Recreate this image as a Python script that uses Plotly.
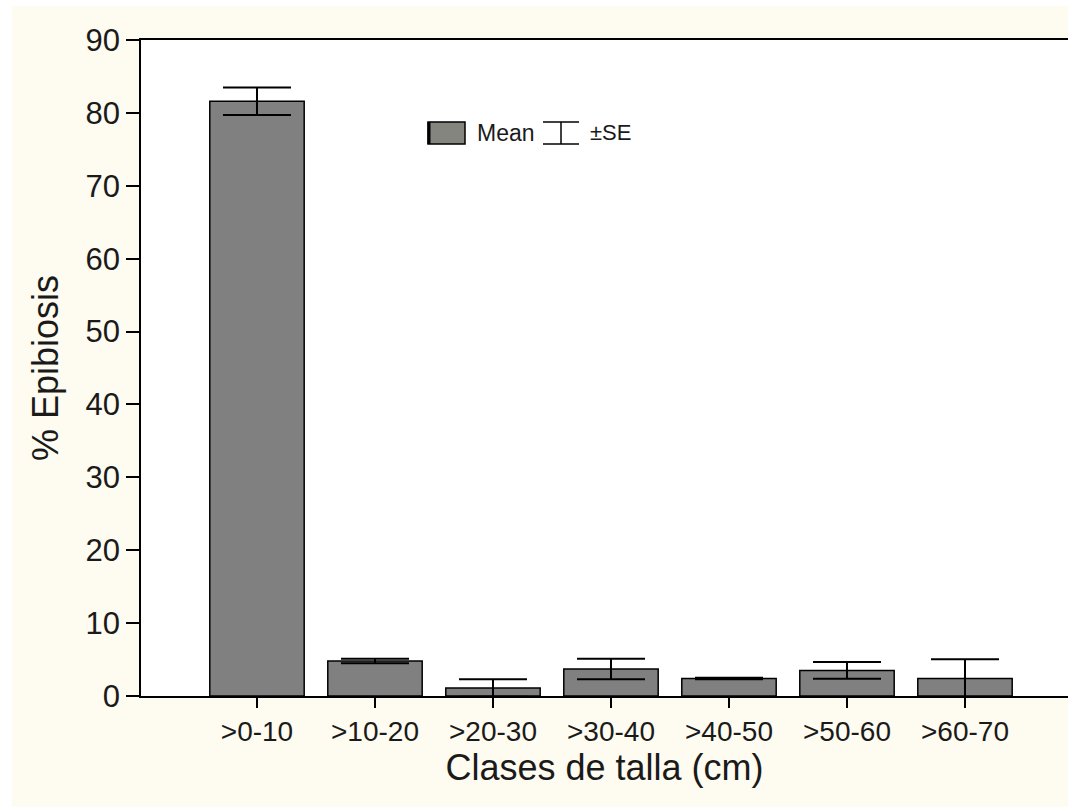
import plotly.graph_objects as go

categories = [">0-10", ">10-20", ">20-30", ">30-40", ">40-50", ">50-60", ">60-70"]
mean_vals = [81.6, 4.8, 1.1, 3.7, 2.4, 3.5, 2.4]
se_vals = [1.9, 0.3, 1.2, 1.4, 0.1, 1.15, 2.65]
y_ticks = [0, 10, 20, 30, 40, 50, 60, 70, 80, 90]

W, H = 1068, 809
L, R, T, B = 141, 0, 40, 113
pw, ph = W - L - R, H - T - B

def px(x):
    return (x - L) / pw

def py(y):
    return (H - B - y) / ph

idx = list(range(len(categories)))

fig = go.Figure()
fig.add_trace(go.Bar(
    x=idx, y=mean_vals,
    marker=dict(color="#808080", line=dict(color="black", width=1.5)),
    error_y=dict(type="data", array=se_vals, visible=True,
                 color="black", thickness=2, width=34),
    width=0.8,
    showlegend=False,
))

font = "Liberation Sans, Arial, sans-serif"

fig.update_layout(
    width=W, height=H,
    margin=dict(l=L, r=R, t=T, b=B, pad=0),
    paper_bgcolor="#FEFBF0",
    plot_bgcolor="white",
    font=dict(family=font, color="#1a1a1a"),
    xaxis=dict(
        range=[-0.983, 6.873],
        tickmode="array", tickvals=idx, ticktext=categories,
        ticks="outside", ticklen=10, tickwidth=1.5, tickcolor="black",
        showline=True, linecolor="black", linewidth=1.5, mirror=True,
        showgrid=False, zeroline=False,
        tickfont=dict(size=28, family=font),
        title=dict(text="Clases de talla (cm)", font=dict(size=36, family=font), standoff=6),
    ),
    yaxis=dict(
        range=[0, 90],
        tickmode="array", tickvals=y_ticks,
        ticks="outside", ticklen=13, tickwidth=1.5, tickcolor="black",
        showline=True, linecolor="black", linewidth=1.5,
        showgrid=False, zeroline=False,
        tickfont=dict(size=31, family=font),
        title=dict(text="% Epibiosis", font=dict(size=36, family=font), standoff=16),
    ),
)

# outer white border strips
for (x0, x1, y0, y1) in [(0, 12, 0, H), (0, W, 0, 6), (0, W, 807, H)]:
    fig.add_shape(type="rect", xref="paper", yref="paper",
                  x0=px(x0), x1=px(x1), y0=py(y1), y1=py(y0),
                  fillcolor="white", line=dict(width=0), layer="below")

# legend: Mean box
fig.add_shape(type="rect", xref="paper", yref="paper",
              x0=px(428), x1=px(465), y0=py(144), y1=py(122),
              fillcolor="#858580", line=dict(color="black", width=1.5))
fig.add_shape(type="line", xref="paper", yref="paper",
              x0=px(429), x1=px(429), y0=py(144), y1=py(122),
              line=dict(color="black", width=3))
fig.add_annotation(x=px(475), y=py(133), xref="paper", yref="paper",
                   text="Mean", showarrow=False, xanchor="left", yanchor="middle",
                   font=dict(size=23, family=font, color="#1a1a1a"))
# legend: SE glyph
for (x0, x1, y0, y1) in [(543, 579, 122, 122), (543, 579, 144, 144), (561, 561, 122, 144)]:
    fig.add_shape(type="line", xref="paper", yref="paper",
                  x0=px(x0), x1=px(x1), y0=py(y0), y1=py(y1),
                  line=dict(color="black", width=1.5))
fig.add_annotation(x=px(588), y=py(133), xref="paper", yref="paper",
                   text="±SE", showarrow=False, xanchor="left", yanchor="middle",
                   font=dict(size=22, family=font, color="#1a1a1a"))

fig.write_html("out.html",
               config={"displayModeBar": False},
               post_script="document.body.style.margin='0';document.body.style.padding='0';document.body.style.overflow='hidden';")
